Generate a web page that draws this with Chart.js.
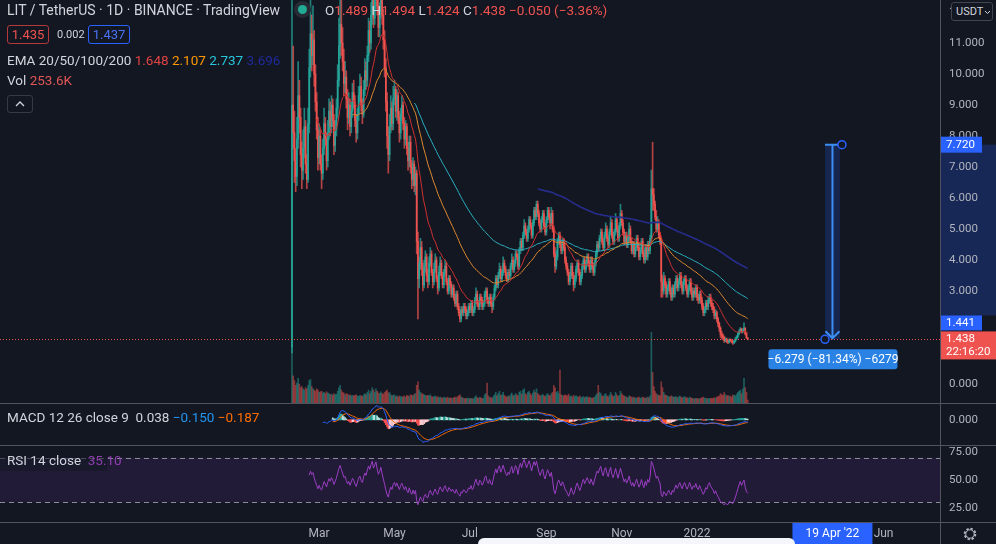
<!DOCTYPE html>
<html>
<head>
<meta charset="utf-8">
<script src="https://cdn.jsdelivr.net/npm/chart.js@4.4.1/dist/chart.umd.min.js"></script>
<style>
  html, body { margin: 0; padding: 0; background: #131722; }
  #wrap { position: relative; width: 996px; height: 544px; overflow: hidden; background: #131722;
          font-family: Roboto, "Noto Sans", sans-serif; color: #d1d4dc; }
  canvas { position: absolute; left: 0; }
  .t { position: absolute; white-space: nowrap; font-size: 13px; line-height: 16px; }
  .red { color: #ef5350; }
  .box { position: absolute; box-sizing: border-box; border-radius: 3px; text-align: center; font-size: 13px; line-height: 17px; }
  .sep { position: absolute; background: #50535e; }
</style>
</head>
<body>
<div id="wrap">
  <canvas id="main" width="996" height="403" style="top:0"></canvas>
  <canvas id="macd" width="996" height="41" style="top:404px"></canvas>
  <canvas id="rsi" width="996" height="98" style="top:446px"></canvas>

  <div class="sep" style="left:0;top:403px;width:996px;height:1px"></div>
  <div class="sep" style="left:0;top:445px;width:996px;height:1px"></div>
  <div class="sep" style="left:0;top:522px;width:996px;height:1px"></div>
  <div class="sep" style="left:940px;top:0;width:1px;height:544px"></div>

  <div class="t" style="left:7px;top:2px;font-size:14px">LIT / TetherUS · 1D · BINANCE · TradingView</div>
  <div style="position:absolute;left:294px;top:1px;width:17px;height:17px;border-radius:50%;background:#262b36"></div>
  <div style="position:absolute;left:298px;top:5px;width:9px;height:9px;border-radius:50%;background:#22ab94"></div>
  <div class="t" style="left:325px;top:2px;font-size:13.5px">O<span class="red">1.489</span> H<span class="red">1.494</span> L<span class="red">1.424</span> C<span class="red">1.438</span> <span class="red">−0.050 (−3.36%)</span></div>

  <div class="box" style="left:7px;top:25px;width:42px;height:19px;border:1px solid #b33a3a;color:#ef5350">1.435</div>
  <div class="t" style="left:57px;top:27px;font-size:11px">0.002</div>
  <div class="box" style="left:88px;top:25px;width:42px;height:19px;border:1px solid #2962ff;color:#4a72f5">1.437</div>

  <div class="t" style="left:7px;top:52px;font-size:13.5px">EMA 20/50/100/200 <span style="color:#e04343">1.648</span> <span style="color:#ff9800">2.107</span> <span style="color:#26c6da">2.737</span> <span style="color:#1f2a9a">3.696</span></div>
  <div class="t" style="left:7px;top:72px;font-size:13.5px">Vol <span style="color:#e05656">253.6K</span></div>
  <div class="box" style="left:7px;top:95px;width:26px;height:18px;border:1px solid #363a45">
    <svg width="10" height="6" style="position:absolute;left:7px;top:5px"><polyline points="1,5 5,1 9,5" fill="none" stroke="#d1d4dc" stroke-width="1.3"/></svg>
  </div>

  <div class="box" style="left:951px;top:2px;width:42px;height:19px;border:1px solid #434651;background:#131722;font-size:11px;line-height:17px;text-align:left;padding-left:4px;color:#d1d4dc">USDT
    <svg width="7" height="5" style="position:absolute;left:32px;top:7px"><polyline points="1,1 3.5,3.5 6,1" fill="none" stroke="#d1d4dc" stroke-width="1"/></svg>
  </div>

  <div class="t" style="left:7px;top:409px;font-size:13.5px">MACD 12 26 close 9 &nbsp;<span style="color:#d1d4dc">0.038</span> <span style="color:#2196f3">−0.150</span> <span style="color:#ff6d00">−0.187</span></div>

  <div style="position:absolute;left:0;top:448px;width:107px;height:23px;background:rgba(19,23,34,0.55)"></div>
  <div class="t" style="left:7px;top:452px;font-size:13.5px">RSI 14 close &nbsp;<span style="color:#8e3fae">35.10</span></div>

  <svg width="16" height="16" style="position:absolute;left:962px;top:526px">
    <circle cx="8" cy="8" r="5" fill="none" stroke="#b2b5be" stroke-width="2.6" stroke-dasharray="2.2 1.7"/>
    <circle cx="8" cy="8" r="4.2" fill="#131722" stroke="#b2b5be" stroke-width="1"/>
  </svg>
  <div style="position:absolute;left:478px;top:538px;width:317px;height:14px;border-radius:6px;background:#f4f6fb"></div>
</div>

<script>
// LIT / USDT daily candles, day 0 = 2021-02-07
const open = [
  1.2,9.0,8.1,7.2,6.7,7.9,9.3,8.6,7.4,6.9, 7.6,8.3,7.1,6.6,8.4,10.2,11.3,10.6,11.1,10.0,
  9.1,8.2,7.3,8.0,7.1,6.8,7.6,8.4,7.9,7.2, 8.1,8.8,8.3,9.0,8.5,7.7,8.2,8.9,9.8,10.9,
  11.6,11.0,10.4,9.7,9.9,9.2,8.6,9.0,8.3,8.8, 9.4,9.1,8.5,8.1,8.7,9.3,9.6,9.0,8.7,9.5,
  10.1,9.8,10.6,11.4,11.0,11.9,12.6,11.8,12.4,13.1, 12.2,11.5,12.0,12.8,11.9,11.1,10.2,9.1,8.0,7.4,
  8.3,8.9,8.4,9.2,9.5,8.8,9.3,8.6,8.1,8.7, 9.0,8.4,7.9,8.3,7.6,7.2,7.8,7.0,6.6,7.1,
  6.4,6.8,4.6,3.4,3.9,4.4,3.7,3.2,3.8,4.1, 3.5,3.3,3.9,4.2,3.6,3.3,3.7,4.0,3.4,3.1,
  3.6,3.9,3.5,3.2,3.6,3.8,3.3,3.0,3.4,3.2, 2.9,3.1,2.8,2.6,2.9,2.5,2.3,2.1,2.4,2.3,
  2.5,2.4,2.2,2.3,2.5,2.4,2.6,2.3,2.4,2.7, 2.9,2.6,2.5,2.8,2.7,2.5,2.6,2.9,3.0,2.7,
  2.6,2.8,2.6,2.5,2.8,3.1,3.4,3.2,3.5,3.7, 3.4,3.6,3.9,3.7,3.5,3.4,3.6,3.5,3.8,4.0,
  3.7,3.9,4.2,4.1,3.8,4.3,4.6,4.4,4.8,5.1, 4.9,4.7,5.0,5.3,5.1,4.8,5.2,5.6,5.4,5.8,
  5.5,5.2,5.0,5.3,5.5,5.1,4.9,5.3,5.6,5.4, 5.2,5.5,5.0,4.2,3.8,4.1,4.6,4.8,4.5,4.3,
  4.6,4.4,4.0,3.8,3.6,3.3,3.5,3.8,3.5,3.2, 3.4,3.7,3.9,3.6,3.3,3.5,3.8,4.0,3.7,3.9,
  4.1,3.9,3.7,4.0,3.8,3.6,3.9,4.2,4.5,4.4, 4.7,4.9,4.6,4.4,4.8,5.0,4.7,4.5,4.9,5.2,
  4.8,4.6,4.9,5.3,5.0,4.7,5.1,5.5,5.2,4.9, 4.6,4.8,4.5,4.7,5.0,4.6,4.3,4.5,4.2,4.4,
  4.7,4.4,4.1,4.3,4.6,4.2,4.0,4.4,4.1,4.5, 4.3,4.7,6.3,6.1,5.8,5.4,5.0,5.2,4.8,4.6,
  3.3,3.0,3.4,3.2,2.9,3.1,3.3,3.0,2.8,3.1, 2.9,3.2,3.4,3.1,3.3,3.5,3.2,3.0,3.3,3.4,
  3.1,2.9,3.1,3.3,3.0,2.8,3.0,2.9,3.1,2.8, 2.7,2.9,2.7,2.5,2.3,2.4,2.6,2.5,2.7,2.8,
  2.6,2.5,2.4,2.2,2.3,2.1,1.95,1.8,1.6,1.55, 1.5,1.4,1.45,1.38,1.35,1.42,1.4,1.36,1.33,1.38,
  1.45,1.52,1.62,1.7,1.78,1.68,1.74,1.8,1.62,1.489
];
const high = [
  14.5,10.9,8.8,7.6,8.6,10.4,9.8,8.9,7.8,8.2, 8.9,8.5,7.4,8.9,10.8,12.7,11.9,12.2,11.4,10.3,
  9.4,8.6,8.4,8.2,7.4,7.9,8.9,8.6,8.1,8.5, 9.2,9.1,9.3,9.2,8.7,8.5,9.2,10.3,11.8,12.9,
  12.4,11.5,10.8,10.4,10.1,9.5,9.4,9.2,9.1,9.7, 9.8,9.3,8.7,8.9,9.6,10.0,9.9,9.2,9.8,10.5,
  10.4,10.9,11.8,11.7,12.3,13.2,12.9,12.8,13.9,13.4, 12.5,12.3,13.3,13.0,12.1,11.4,10.5,9.4,8.3,8.7,
  9.3,9.1,9.6,9.8,9.6,9.5,9.4,8.8,8.9,9.3, 9.1,8.6,8.5,8.4,7.8,8.0,8.0,7.2,7.3,7.2,
  7.0,6.9,4.9,4.1,4.7,4.6,3.9,4.0,4.3,4.2, 3.7,4.1,4.4,4.3,3.7,3.9,4.2,4.1,3.5,3.8,
  4.1,4.0,3.6,3.7,4.0,3.9,3.4,3.5,3.5,3.3, 3.2,3.2,2.9,3.0,3.0,2.6,2.4,2.5,2.5,2.6,
  2.6,2.5,2.4,2.6,2.6,2.7,2.7,2.5,2.8,3.1, 3.0,2.7,2.9,2.9,2.8,2.7,3.0,3.1,3.1,2.8,
  2.9,2.9,2.7,2.9,3.2,3.5,3.5,3.6,3.9,3.8, 3.7,4.1,4.0,3.8,3.6,3.7,3.7,3.9,4.2,4.1,
  4.0,4.3,4.3,4.2,4.4,4.7,4.7,4.9,5.3,5.2, 5.0,5.1,5.4,5.4,5.2,5.3,5.7,5.7,5.9,5.9,
  5.6,5.3,5.4,5.6,5.6,5.2,5.4,5.7,5.7,5.5, 5.7,5.6,5.1,4.4,4.3,4.7,4.9,4.9,4.6,4.7,
  4.7,4.5,4.1,3.9,3.7,3.6,3.9,3.9,3.6,3.5, 3.8,4.0,4.0,3.7,3.6,3.9,4.1,4.1,4.0,4.2,
  4.2,4.0,4.1,4.1,3.9,4.0,4.3,4.6,4.6,4.8, 5.0,5.0,4.7,4.9,5.2,5.1,4.8,5.0,5.4,5.3,
  4.9,5.0,5.5,5.4,5.1,5.2,5.8,5.6,5.3,5.0, 4.9,4.9,4.8,5.2,5.1,4.7,4.6,4.6,4.5,4.8,
  4.8,4.5,4.4,4.7,4.7,4.3,4.5,4.5,4.6,4.6, 4.8,6.9,7.8,6.3,5.9,5.6,5.4,5.3,4.9,4.7,
  3.5,3.6,3.5,3.3,3.2,3.4,3.4,3.1,3.2,3.2, 3.3,3.5,3.5,3.4,3.6,3.6,3.3,3.4,3.5,3.5,
  3.2,3.2,3.4,3.4,3.1,3.1,3.1,3.2,3.2,2.9, 3.0,3.0,2.8,2.6,2.5,2.7,2.7,2.8,2.9,2.9,
  2.7,2.6,2.5,2.4,2.35,2.15,2.0,1.85,1.7,1.62, 1.55,1.5,1.48,1.42,1.46,1.46,1.43,1.4,1.42,1.5,
  1.56,1.66,1.75,1.82,1.8,1.78,1.97,1.82,1.65,1.494
];
const low = [
  1.0,7.6,6.5,6.2,6.4,7.6,8.1,7.0,6.3,6.6, 7.3,6.8,6.3,6.5,8.1,9.9,10.1,10.3,9.6,8.8,
  7.9,6.9,7.1,6.9,6.3,6.6,7.4,7.7,6.9,7.0, 7.9,8.0,8.1,8.3,7.4,7.5,8.0,8.6,9.6,10.5,
  10.6,10.1,9.3,9.4,8.9,8.2,8.4,8.0,8.1,8.6, 8.9,8.3,7.8,7.9,8.5,9.1,8.8,8.4,8.6,9.3,
  9.5,9.6,10.4,10.7,10.8,11.6,11.5,11.6,12.1,11.9, 11.2,11.2,11.8,11.6,10.8,9.9,8.8,7.6,6.8,7.2,
  8.1,8.2,8.2,9.0,8.6,8.5,8.4,7.8,7.9,8.5, 8.2,7.6,7.7,7.4,6.9,7.0,6.8,6.3,6.4,6.2,
  6.1,4.2,2.1,3.1,3.7,3.5,3.0,3.1,3.6,3.3, 3.1,3.2,3.8,3.5,3.1,3.2,3.6,3.3,2.9,3.0,
  3.5,3.4,3.1,3.1,3.5,3.2,2.9,2.9,3.1,2.8, 2.8,2.7,2.5,2.5,2.4,2.2,2.0,2.0,2.2,2.2,
  2.3,2.1,2.1,2.2,2.3,2.3,2.2,2.2,2.3,2.6, 2.5,2.4,2.4,2.6,2.4,2.4,2.5,2.8,2.6,2.5,
  2.5,2.5,2.3,2.4,2.7,3.0,3.1,3.1,3.4,3.3, 3.3,3.5,3.6,3.4,3.3,3.3,3.4,3.4,3.7,3.6,
  3.6,3.8,4.0,3.7,3.7,4.2,4.3,4.3,4.7,4.8, 4.6,4.6,4.9,5.0,4.7,4.7,5.1,5.3,5.3,5.4,
  5.1,4.9,4.9,5.2,5.0,4.8,4.8,5.2,5.3,5.0, 5.1,4.9,4.1,3.6,3.7,4.0,4.5,4.4,4.2,4.2,
  4.3,3.9,3.7,3.5,3.2,3.2,3.4,3.4,3.0,3.1, 3.3,3.6,3.5,3.2,3.2,3.4,3.7,3.6,3.6,3.8,
  3.8,3.6,3.6,3.7,3.5,3.5,3.8,4.1,4.3,4.3, 4.6,4.5,4.3,4.3,4.7,4.6,4.4,4.4,4.8,4.7,
  4.5,4.5,4.8,4.9,4.6,4.6,5.0,5.1,4.8,4.5, 4.5,4.4,4.4,4.6,4.5,4.2,4.2,4.1,4.1,4.3,
  4.3,4.0,4.0,4.2,4.1,3.9,3.9,4.0,4.0,4.2, 4.2,4.6,5.6,5.6,5.3,4.9,4.9,4.7,4.5,2.8,
  2.8,2.9,3.1,2.8,2.8,3.0,2.9,2.7,2.7,2.8, 2.8,3.1,3.0,3.0,3.2,3.1,2.9,2.9,3.2,3.0,
  2.8,2.8,3.0,2.9,2.7,2.7,2.8,2.8,2.7,2.6, 2.6,2.6,2.4,2.2,2.2,2.3,2.4,2.4,2.6,2.5,
  2.4,2.3,2.1,2.1,2.0,1.85,1.7,1.5,1.45,1.42, 1.34,1.36,1.33,1.3,1.32,1.36,1.32,1.28,1.3,1.35,
  1.42,1.49,1.58,1.66,1.64,1.65,1.72,1.58,1.47,1.424
];
const close = [
  9.0,8.1,7.2,6.7,7.9,9.3,8.6,7.4,6.9,7.6, 8.3,7.1,6.6,8.4,10.2,11.3,10.6,11.1,10.0,9.1,
  8.2,7.3,8.0,7.1,6.8,7.6,8.4,7.9,7.2,8.1, 8.8,8.3,9.0,8.5,7.7,8.2,8.9,9.8,10.9,11.6,
  11.0,10.4,9.7,9.9,9.2,8.6,9.0,8.3,8.8,9.4, 9.1,8.5,8.1,8.7,9.3,9.6,9.0,8.7,9.5,10.1,
  9.8,10.6,11.4,11.0,11.9,12.6,11.8,12.4,13.1,12.2, 11.5,12.0,12.8,11.9,11.1,10.2,9.1,8.0,7.4,8.3,
  8.9,8.4,9.2,9.5,8.8,9.3,8.6,8.1,8.7,9.0, 8.4,7.9,8.3,7.6,7.2,7.8,7.0,6.6,7.1,6.4,
  6.8,4.6,3.4,3.9,4.4,3.7,3.2,3.8,4.1,3.5, 3.3,3.9,4.2,3.6,3.3,3.7,4.0,3.4,3.1,3.6,
  3.9,3.5,3.2,3.6,3.8,3.3,3.0,3.4,3.2,2.9, 3.1,2.8,2.6,2.9,2.5,2.3,2.1,2.4,2.3,2.5,
  2.4,2.2,2.3,2.5,2.4,2.6,2.3,2.4,2.7,2.9, 2.6,2.5,2.8,2.7,2.5,2.6,2.9,3.0,2.7,2.6,
  2.8,2.6,2.5,2.8,3.1,3.4,3.2,3.5,3.7,3.4, 3.6,3.9,3.7,3.5,3.4,3.6,3.5,3.8,4.0,3.7,
  3.9,4.2,4.1,3.8,4.3,4.6,4.4,4.8,5.1,4.9, 4.7,5.0,5.3,5.1,4.8,5.2,5.6,5.4,5.8,5.5,
  5.2,5.0,5.3,5.5,5.1,4.9,5.3,5.6,5.4,5.2, 5.5,5.0,4.2,3.8,4.1,4.6,4.8,4.5,4.3,4.6,
  4.4,4.0,3.8,3.6,3.3,3.5,3.8,3.5,3.2,3.4, 3.7,3.9,3.6,3.3,3.5,3.8,4.0,3.7,3.9,4.1,
  3.9,3.7,4.0,3.8,3.6,3.9,4.2,4.5,4.4,4.7, 4.9,4.6,4.4,4.8,5.0,4.7,4.5,4.9,5.2,4.8,
  4.6,4.9,5.3,5.0,4.7,5.1,5.5,5.2,4.9,4.6, 4.8,4.5,4.7,5.0,4.6,4.3,4.5,4.2,4.4,4.7,
  4.4,4.1,4.3,4.6,4.2,4.0,4.4,4.1,4.5,4.3, 4.7,6.3,6.1,5.8,5.4,5.0,5.2,4.8,4.6,3.3,
  3.0,3.4,3.2,2.9,3.1,3.3,3.0,2.8,3.1,2.9, 3.2,3.4,3.1,3.3,3.5,3.2,3.0,3.3,3.4,3.1,
  2.9,3.1,3.3,3.0,2.8,3.0,2.9,3.1,2.8,2.7, 2.9,2.7,2.5,2.3,2.4,2.6,2.5,2.7,2.8,2.6,
  2.5,2.4,2.2,2.3,2.1,1.95,1.8,1.6,1.55,1.5, 1.4,1.45,1.38,1.35,1.42,1.4,1.36,1.33,1.38,1.45,
  1.52,1.62,1.7,1.78,1.68,1.74,1.8,1.62,1.489,1.438
];
// volume in thousands of LIT
const volume = [
  4900,2300,1900,1500,1700,2100,1600,1300,1400,1200, 1100,1300,1200,1500,1900,2000,1400,1200,1100,1000,
  1200,1100,900,950,1000,850,900,800,950,850, 800,700,750,650,800,700,750,1000,1300,1500,
  1100,900,850,700,800,750,650,700,600,650, 600,650,700,600,550,650,600,550,700,800,
  700,900,1100,800,1000,1300,1100,900,1200,1000, 850,800,950,800,750,900,1000,1100,850,900,
  700,600,650,700,550,600,500,600,550,500, 550,600,500,650,600,550,700,650,600,750,
  800,1500,1800,1100,900,800,750,700,650,600, 650,600,700,550,500,550,600,500,550,450,
  500,450,400,500,450,420,500,400,450,420, 400,450,500,420,550,600,700,500,450,400,
  350,400,380,420,350,400,380,350,500,600, 450,400,500,450,380,400,700,800,1700,600,
  500,450,400,550,700,900,600,800,1000,650, 700,900,650,550,500,600,550,700,850,600,
  650,800,700,600,900,1000,750,1100,1200,800, 700,900,1000,800,650,850,1100,900,1200,800,
  700,600,650,750,600,550,700,800,650,600, 800,900,1500,1300,900,1000,800,2800,700,650,
  600,700,650,600,750,550,600,500,650,550, 600,550,500,600,450,500,550,450,500,550,
  450,500,450,400,450,500,650,800,1500,900, 800,600,550,700,800,600,500,650,900,700,
  550,600,900,700,550,650,1000,800,650,600, 550,500,450,600,550,500,450,500,400,450,
  450,500,400,450,500,450,400,450,500,450, 600,6000,2600,1400,1000,800,700,650,600,1800,
  1300,900,700,650,600,550,500,600,550,500, 500,550,450,500,600,500,450,500,550,450,
  450,400,500,450,400,380,350,400,380,350, 380,400,450,500,420,400,380,350,400,380,
  400,380,450,420,500,550,600,800,700,650, 900,700,600,650,550,600,500,700,650,600,
  750,900,1000,1100,800,1200,2100,1300,900,253.6
];

const emaLengths = [20, 50, 100, 200];
const emaColors = ['#d0302f', '#e0892e', '#2ab3c4', '#262d8c'];
const emaWidths = [1, 1, 1, 1.6];
const priceTicks = [0, 1, 2, 3, 4, 5, 6, 7, 8, 9, 10, 11, 12];
const rsiTicks = [25, 50, 75];
const rsiBands = [30, 70];
const timeTicks = [22, 83, 144, 206, 267, 328, 479];
const timeLabels = ['Mar', 'May', 'Jul', 'Sep', 'Nov', '2022', 'Jun'];
const lastPrice = 1.438;
const countdown = '22:16:20';
const measureFrom = { day: 445.3, price: 7.720 };
const measureTo = { day: 431.6, price: 1.441 };
const measureText = '−6.279 (−81.34%) −6279';
const crossDay = 436;
const crossLabel = "19 Apr '22";

// visible window (day index) and price window
const viewFrom = -236.4, viewTo = 524.7;
const priceMin = -0.613, priceMax = 12.387;
const volTop = 34255;

Chart.defaults.font.family = 'Roboto, "Noto Sans", sans-serif';
const UP = '#26a69a', DOWN = '#ef5350';
const up = close.map((c, i) => c >= open[i]);

function ema(src, len, from = 0) {
  const out = new Array(src.length).fill(null);
  const k = 2 / (len + 1);
  let s = 0;
  for (let i = from; i < src.length; i++) {
    const n = i - from;
    if (n < len - 1) { s += src[i]; continue; }
    if (n === len - 1) { s += src[i]; out[i] = s / len; continue; }
    out[i] = k * src[i] + (1 - k) * out[i - 1];
  }
  return out;
}

function rsi(src, len) {
  const out = new Array(src.length).fill(null);
  let au = 0, ad = 0;
  for (let i = 1; i < src.length; i++) {
    const ch = src[i] - src[i - 1];
    const u = Math.max(ch, 0), d = Math.max(-ch, 0);
    if (i < len) { au += u; ad += d; continue; }
    if (i === len) { au = (au + u) / len; ad = (ad + d) / len; }
    else { au = (au * (len - 1) + u) / len; ad = (ad * (len - 1) + d) / len; }
    out[i] = ad === 0 ? 100 : 100 - 100 / (1 + au / ad);
  }
  return out;
}

const pts = arr => arr.map((v, i) => v == null ? null : { x: i, y: v }).filter(Boolean);

const fast = ema(close, 12), slow = ema(close, 26);
const macd = close.map((c, i) => (fast[i] != null && slow[i] != null) ? fast[i] - slow[i] : null);
const signal = ema(macd.map(v => v == null ? 0 : v), 9, 25);
const hist = macd.map((m, i) => (m != null && signal[i] != null) ? m - signal[i] : null);
const rsiVals = rsi(close, 14);

const histColors = hist.map((h, i) => {
  const prev = i > 0 ? hist[i - 1] : null;
  const rising = prev != null && h > prev;
  if (h >= 0) return rising ? '#26a69a' : '#b2dfdb';
  return rising ? '#ffcdd2' : '#ff5252';
});

function rightAxis(extra) {
  return Object.assign({
    position: 'right',
    grid: { display: false, drawTicks: false },
    border: { display: false },
    ticks: { color: '#b2b5be', padding: 9, font: { size: 11.5 } },
    afterFit: s => { s.width = 56; s.paddingTop = 0; s.paddingBottom = 0; }
  }, extra);
}
const xAxis = show => ({
  type: 'linear', min: viewFrom, max: viewTo, offset: false, display: show,
  grid: { display: false, drawTicks: false }, border: { display: false }
});
const base = {
  responsive: false, animation: false, events: [],
  layout: { padding: 0 },
  plugins: { legend: { display: false }, tooltip: { enabled: false } }
};

const mainMarks = {
  id: 'mainMarks',
  beforeDraw(chart) {
    const { ctx, chartArea: ca, scales: { y } } = chart;
    const yTop = y.getPixelForValue(measureFrom.price);
    const redTop = y.getPixelForValue(lastPrice) - 8;
    ctx.save();
    ctx.fillStyle = 'rgba(41,98,255,0.24)';
    ctx.fillRect(ca.right + 1, yTop, chart.width - ca.right, redTop - 16 - yTop);
    ctx.restore();
  },
  afterDraw(chart) {
    const { ctx, chartArea: ca, scales: { x, y } } = chart;
    const py = Math.round(y.getPixelForValue(lastPrice)) + 0.5;
    ctx.save();
    // last price line
    ctx.strokeStyle = '#ef5350'; ctx.lineWidth = 1; ctx.setLineDash([1, 2]);
    ctx.beginPath(); ctx.moveTo(ca.left, py); ctx.lineTo(ca.right, py); ctx.stroke();
    ctx.setLineDash([]);

    // measure tool
    const xa = x.getPixelForValue(measureTo.day), xb = x.getPixelForValue(measureFrom.day);
    const yTop = y.getPixelForValue(measureFrom.price), yBot = y.getPixelForValue(measureTo.price);
    ctx.fillStyle = 'rgba(41,98,255,0.2)';
    ctx.fillRect(xa, yTop, xb - xa - 2, yBot - yTop);
    const mx = (xa + xb) / 2 - 1;
    ctx.strokeStyle = '#3d8ef2'; ctx.lineWidth = 2;
    ctx.beginPath();
    ctx.moveTo(xa, yTop); ctx.lineTo(xb - 2, yTop);
    ctx.moveTo(mx, yTop); ctx.lineTo(mx, yBot - 1);
    ctx.moveTo(mx - 7, yBot - 8); ctx.lineTo(mx, yBot - 1); ctx.lineTo(mx + 7, yBot - 8);
    ctx.stroke();
    ctx.fillStyle = '#131722'; ctx.strokeStyle = '#2962ff'; ctx.lineWidth = 1.5;
    [[xb, yTop], [xa, yBot]].forEach(([cx, cy]) => {
      ctx.beginPath(); ctx.arc(cx, cy, 4, 0, Math.PI * 2); ctx.fill(); ctx.stroke();
    });
    ctx.fillStyle = '#2a82e4';
    ctx.beginPath(); ctx.roundRect(mx - 64, yBot + 10, 129, 20, 3); ctx.fill();
    ctx.fillStyle = '#ffffff'; ctx.font = '12px Roboto'; ctx.textAlign = 'center'; ctx.textBaseline = 'middle';
    ctx.fillText(measureText, mx + 0.5, yBot + 20.5);

    // price axis labels
    const ax = ca.right + 1, aw = chart.width - ax;
    const redTop = y.getPixelForValue(lastPrice) - 8;
    ctx.textAlign = 'left'; ctx.font = '11.5px Roboto';
    ctx.fillStyle = '#2962ff'; ctx.fillRect(ax, yTop - 8, 41, 16);
    ctx.fillStyle = '#ffffff'; ctx.fillText(measureFrom.price.toFixed(3), ax + 5, yTop);
    ctx.fillStyle = '#2962ff'; ctx.fillRect(ax, redTop - 16, 41, 15);
    ctx.fillStyle = '#ffffff'; ctx.fillText(measureTo.price.toFixed(3), ax + 5, redTop - 8.5);
    ctx.fillStyle = '#ef5350'; ctx.fillRect(ax, redTop, aw, 28);
    ctx.fillStyle = '#ffffff';
    ctx.fillText(lastPrice.toFixed(3), ax + 5, redTop + 8);
    ctx.fillText(countdown, ax + 5, redTop + 21);
    ctx.restore();
  }
};

new Chart(document.getElementById('main'), {
  type: 'bar',
  data: {
    datasets: [
      { yAxisID: 'vol', data: volume.map((v, i) => ({ x: i, y: v })), grouped: false, barThickness: 1, order: 10,
        backgroundColor: up.map(u => u ? 'rgba(38,166,154,0.5)' : 'rgba(239,83,80,0.5)') },
      { yAxisID: 'y', data: low.map((v, i) => ({ x: i, y: [v, high[i]] })), grouped: false, barThickness: 1, order: 5,
        backgroundColor: up.map(u => u ? 'rgba(38,166,154,0.75)' : 'rgba(239,83,80,0.75)') },
      { yAxisID: 'y', data: open.map((v, i) => ({ x: i, y: [v, close[i]] })), grouped: false, barThickness: 1, order: 4,
        minBarLength: 1, backgroundColor: up.map(u => u ? UP : DOWN) },
      ...emaLengths.map((len, j) => ({
        type: 'line', yAxisID: 'y', data: pts(ema(close, len)), borderColor: emaColors[j],
        borderWidth: emaWidths[j], pointRadius: 0, tension: 0, order: 1
      }))
    ]
  },
  options: Object.assign({}, base, {
    scales: {
      x: xAxis(false),
      y: rightAxis({
        min: priceMin, max: priceMax,
        afterBuildTicks: s => { s.ticks = priceTicks.map(v => ({ value: v })); },
        ticks: { color: '#b2b5be', padding: 9, font: { size: 11.5 }, callback: v => v.toFixed(3) }
      }),
      vol: { display: false, min: 0, max: volTop }
    }
  }),
  plugins: [mainMarks]
});

new Chart(document.getElementById('macd'), {
  type: 'bar',
  data: {
    datasets: [
      { data: pts(hist), grouped: false, barThickness: 1, order: 3,
        backgroundColor: pts(hist).map(p => histColors[p.x]) },
      { type: 'line', data: pts(macd), borderColor: '#2962ff', borderWidth: 1, pointRadius: 0, order: 1 },
      { type: 'line', data: pts(signal), borderColor: '#ff6d00', borderWidth: 1, pointRadius: 0, order: 2 }
    ]
  },
  options: Object.assign({}, base, {
    scales: {
      x: xAxis(false),
      y: rightAxis({
        bounds: 'data',
        afterDataLimits: s => { const r = s.max - s.min; s.max += r * 0.05; s.min -= r * 0.08; },
        afterBuildTicks: s => { s.ticks = [{ value: 0 }]; },
        ticks: { color: '#b2b5be', padding: 9, font: { size: 11.5 }, callback: v => v.toFixed(3) }
      })
    }
  })
});

const rsiMarks = {
  id: 'rsiMarks',
  beforeDatasetsDraw(chart) {
    const { ctx, chartArea: ca, scales: { y } } = chart;
    const yHi = y.getPixelForValue(rsiBands[1]), yLo = y.getPixelForValue(rsiBands[0]);
    ctx.save();
    ctx.fillStyle = 'rgba(126,60,194,0.14)';
    ctx.fillRect(ca.left, yHi, ca.right - ca.left, yLo - yHi);
    ctx.strokeStyle = '#8a8d96'; ctx.lineWidth = 1; ctx.setLineDash([5, 4]);
    ctx.beginPath();
    ctx.moveTo(ca.left, Math.round(yHi) + 0.5); ctx.lineTo(ca.right, Math.round(yHi) + 0.5);
    ctx.moveTo(ca.left, Math.round(yLo) + 0.5); ctx.lineTo(ca.right, Math.round(yLo) + 0.5);
    ctx.stroke();
    ctx.restore();
  },
  afterDraw(chart) {
    const { ctx, chartArea: ca, scales: { x } } = chart;
    const cx = x.getPixelForValue(crossDay) + 2;
    ctx.save();
    ctx.fillStyle = '#2962ff';
    ctx.fillRect(cx - 40, ca.bottom + 1, 80, chart.height - ca.bottom);
    ctx.fillStyle = '#ffffff'; ctx.font = '12px Roboto'; ctx.textAlign = 'center'; ctx.textBaseline = 'middle';
    ctx.fillText(crossLabel, cx, ca.bottom + 12);
    ctx.restore();
  }
};

new Chart(document.getElementById('rsi'), {
  type: 'line',
  data: {
    datasets: [
      { data: pts(rsiVals), borderColor: '#9b3fc4', borderWidth: 1, pointRadius: 0, tension: 0 }
    ]
  },
  options: Object.assign({}, base, {
    scales: {
      x: Object.assign(xAxis(true), {
        afterBuildTicks: s => { s.ticks = timeTicks.map(v => ({ value: v })); },
        afterFit: s => { s.height = 22; s.paddingLeft = 0; s.paddingRight = 0; },
        ticks: { color: '#b2b5be', padding: 5, autoSkip: false, maxRotation: 0, font: { size: 12 },
                 callback: (v, i) => timeLabels[i] }
      }),
      y: rightAxis({
        min: 12.5, max: 80.36,
        afterBuildTicks: s => { s.ticks = rsiTicks.map(v => ({ value: v })); },
        ticks: { color: '#b2b5be', padding: 9, font: { size: 11.5 }, callback: v => v.toFixed(2) }
      })
    }
  }),
  plugins: [rsiMarks]
});
</script>
</body>
</html>
